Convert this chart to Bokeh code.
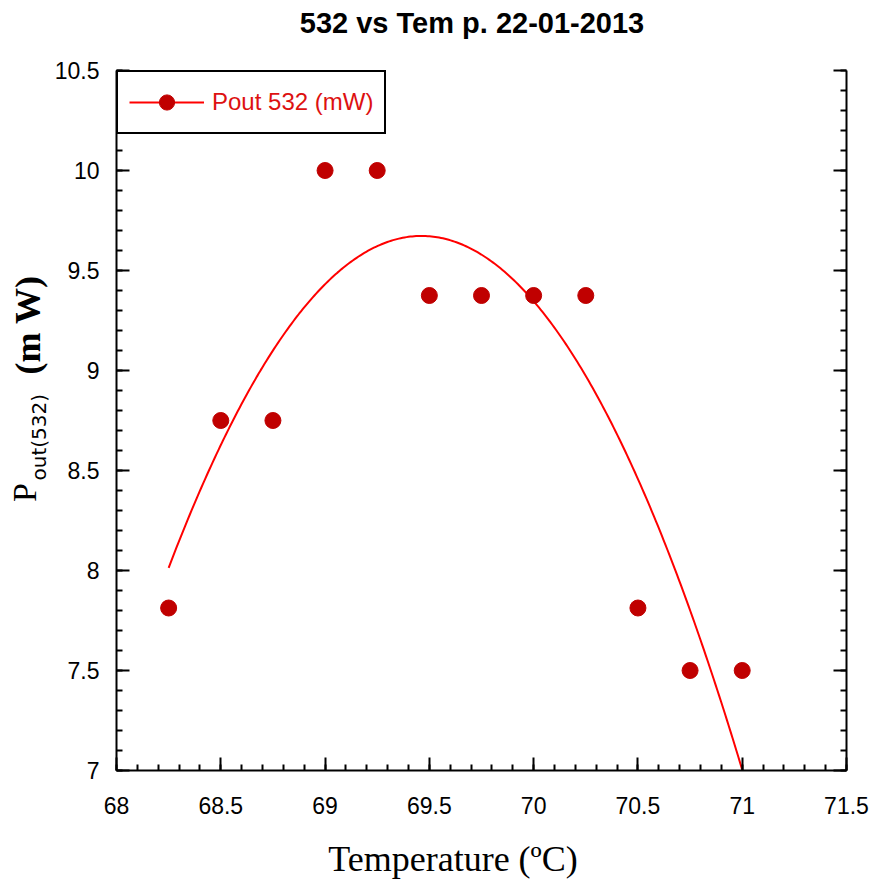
import numpy as np
from bokeh.plotting import figure
from bokeh.layouts import column, row
from bokeh.models import Range1d, LinearAxis, FixedTicker, NumeralTickFormatter
from bokeh.core.properties import value
from bokeh.embed import file_html
from bokeh.resources import INLINE

# Measured output power of the 532 nm line against crystal temperature
temperature = [68.25, 68.5, 68.75, 69.0, 69.25, 69.5, 69.75, 70.0, 70.25, 70.5, 70.75, 71.0]
pout_532 = [7.8125, 8.75, 8.75, 10.0, 10.0, 9.375, 9.375, 9.375, 9.375, 7.8125, 7.5, 7.5]

x_major = [68.0, 68.5, 69.0, 69.5, 70.0, 70.5, 71.0, 71.5]
x_minor = [round(68.0 + 0.1 * i, 1) for i in range(36)]
y_major = [7.0, 7.5, 8.0, 8.5, 9.0, 9.5, 10.0, 10.5]
y_minor = [round(7.0 + 0.1 * i, 1) for i in range(36)]

series_label = "Pout 532 (mW)"
title_text = "532 vs Tem p. 22-01-2013"
x_title = "Temperature (\u00baC)"

SANS = "Liberation Sans"
SERIF = "Liberation Serif"

# page layout (pixels)
PAGE_W = 872
TOP_H = 55          # strip holding the chart title
YT_W = 50           # strip holding the rotated y title
MAIN_W = PAGE_W - YT_W
MAIN_H = 773        # 15 top border + 700 frame + 58 bottom border
BOT_H = 879 - TOP_H - MAIN_H

# second-order polynomial trendline through the measurements
coeffs = np.polyfit(temperature, pout_532, 2)
fit_x = np.linspace(min(temperature), max(temperature), 300)
fit_y = np.polyval(coeffs, fit_x)

p = figure(width=MAIN_W, height=MAIN_H, output_backend="svg", toolbar_location=None,
           x_range=Range1d(68, 71.5), y_range=Range1d(7, 10.5),
           min_border_left=66, min_border_right=26, min_border_top=15, min_border_bottom=58)
p.outline_line_color = None
p.xgrid.visible = False
p.ygrid.visible = False
p.background_fill_color = "white"
p.border_fill_color = "white"

p.line(fit_x, fit_y, line_color="#ff0000", line_width=2, legend_label=series_label)
p.scatter(temperature, pout_532, size=16, fill_color="#c00000", line_color="#c00000",
          legend_label=series_label)


def style_axis(ax, show_labels=True):
    ax.axis_line_width = 2
    ax.axis_line_color = "black"
    ax.major_tick_line_width = 2
    ax.minor_tick_line_width = 2
    ax.major_tick_in = 13
    ax.major_tick_out = 0
    ax.minor_tick_in = 6
    ax.minor_tick_out = 0
    ax.major_label_text_font = SANS
    ax.major_label_text_font_size = "23px" if show_labels else "0px"
    ax.major_label_text_color = "black"
    ax.formatter = NumeralTickFormatter(format="0.[0]")


xax = p.xaxis[0]
xax.ticker = FixedTicker(ticks=x_major, minor_ticks=x_minor)
style_axis(xax)
xax.major_label_standoff = 26

yax = p.yaxis[0]
yax.ticker = FixedTicker(ticks=y_major, minor_ticks=y_minor)
style_axis(yax)
yax.major_label_standoff = 17

rax = LinearAxis(ticker=FixedTicker(ticks=y_major, minor_ticks=y_minor))
style_axis(rax, show_labels=False)
rax.major_label_standoff = 0
p.add_layout(rax, "right")

# legend box in the upper-left corner
lg = p.legend[0]
lg.location = "top_left"
lg.margin = 0
lg.padding = 11
lg.spacing = 0
lg.glyph_width = 75
lg.glyph_height = 38
lg.label_height = 38
lg.label_standoff = 8
lg.label_text_font = SANS
lg.label_text_font_size = "24px"
lg.label_text_color = "#dd1111"
lg.border_line_color = "black"
lg.border_line_alpha = 1.0
lg.border_line_width = 2
lg.background_fill_color = "white"
lg.background_fill_alpha = 1.0


def text_strip(w, h):
    f = figure(width=w, height=h, output_backend="svg", toolbar_location=None,
               x_range=Range1d(0, w), y_range=Range1d(0, h),
               x_axis_type=None, y_axis_type=None, min_border=0)
    f.outline_line_color = None
    f.background_fill_color = "white"
    f.border_fill_color = "white"
    return f


# chart title
top = text_strip(PAGE_W, TOP_H)
top.text(x=[471.5], y=[TOP_H - 22], text=[title_text], text_font=value(SANS),
         text_font_style="bold", text_font_size="29px", text_align="center",
         text_baseline="alphabetic", text_color="black")

# rotated y title: P with subscript out(532), then (m W); each piece centred on its spot
yt = text_strip(YT_W, MAIN_H)
y_off = TOP_H + MAIN_H - 26
yt.text(x=[24], y=[y_off - 495], text=["P"], angle=np.pi / 2, text_font=value(SERIF),
        text_font_size="34px", text_align="center", text_baseline="middle",
        text_color="black")
yt.text(x=[38], y=[y_off - 434], text=["out(532)"], angle=np.pi / 2,
        text_font=value("DejaVu Sans"), text_font_size="20px", text_align="center",
        text_baseline="middle", text_color="black")
yt.text(x=[27], y=[y_off - 310], text=["(m W)"], angle=np.pi / 2, text_font=value(SERIF),
        text_font_style="bold", text_font_size="36px", text_align="center",
        text_baseline="middle", text_color="black")

# x title
bot = text_strip(PAGE_W, BOT_H)
bot.text(x=[452.5], y=[BOT_H - 30], text=[x_title], text_font=value(SERIF),
         text_font_size="36px", text_align="center", text_baseline="alphabetic",
         text_color="black")

layout = column(top, row(yt, p, spacing=0), bot, spacing=0)

open("out.html", "w").write(file_html(layout, INLINE))
